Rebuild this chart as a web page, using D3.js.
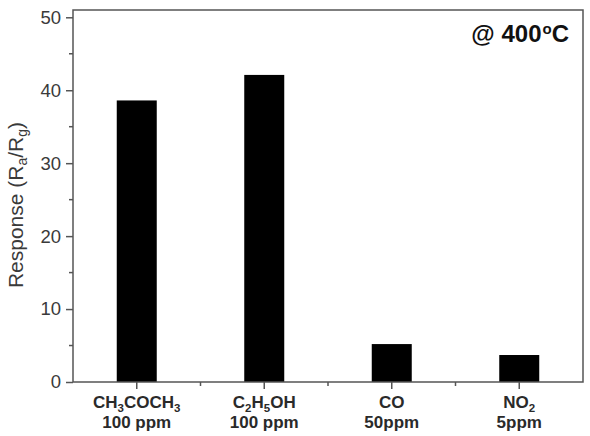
<!DOCTYPE html>
<html>
<head>
<meta charset="utf-8">
<script src="https://cdn.jsdelivr.net/npm/d3@7"></script>
<style>
  body { margin: 0; background: #fff; }
  text { font-family: "Liberation Sans", Arial, sans-serif; }
</style>
</head>
<body>
<script>
// gases and their responses
var gases = ['acetone', 'ethanol', 'co', 'no2'];
var responses = [38.6, 42.1, 5.2, 3.7];
// label parts: [text, isSubscript]
var gasNames = [
  [['CH', 0], ['3', 1], ['COCH', 0], ['3', 1]],
  [['C', 0], ['2', 1], ['H', 0], ['5', 1], ['OH', 0]],
  [['CO', 0]],
  [['NO', 0], ['2', 1]]
];
var concentrations = ['100 ppm', '100 ppm', '50ppm', '5ppm'];
var yTicks = [0, 10, 20, 30, 40, 50];
var yMinorTicks = [5, 15, 25, 35, 45];

var width = 590, height = 436;
var plotLeft = 73, plotRight = 583, plotTop = 10, plotBottom = 382;
var axisColor = '#555';

var svg = d3.select('body').append('svg')
    .attr('width', width)
    .attr('height', height);

var x = d3.scaleBand()
    .domain(gases)
    .range([plotLeft, plotRight])
    .paddingInner(0)
    .paddingOuter(0);

var y = d3.scaleLinear()
    .domain([0, 51])
    .range([plotBottom, plotTop]);

var barWidth = 40;

svg.selectAll('rect.bar')
    .data(responses)
    .enter()
    .append('rect')
    .attr('class', 'bar')
    .attr('x', function(d, i) { return x(gases[i]) + x.bandwidth() / 2 - barWidth / 2; })
    .attr('y', function(d) { return y(d); })
    .attr('width', barWidth)
    .attr('height', function(d) { return y(0) - y(d); })
    .attr('fill', '#000');

// frame
svg.append('rect')
    .attr('x', plotLeft)
    .attr('y', plotTop)
    .attr('width', plotRight - plotLeft)
    .attr('height', plotBottom - plotTop)
    .attr('fill', 'none')
    .attr('stroke', axisColor)
    .attr('stroke-width', 1.5);

// y axis
var yAxis = svg.append('g')
    .attr('transform', 'translate(' + plotLeft + ',0)')
    .call(d3.axisLeft(y).tickValues(yTicks).tickSize(7).tickPadding(5));
yAxis.select('.domain').remove();
yAxis.selectAll('line').attr('stroke', axisColor).attr('stroke-width', 1.5);
yAxis.selectAll('text')
    .attr('font-size', 18.5)
    .attr('fill', '#3a3a3a')
    .style('font-family', '"Liberation Sans", Arial, sans-serif');

svg.append('g').selectAll('line')
    .data(yMinorTicks)
    .enter()
    .append('line')
    .attr('x1', plotLeft - 4)
    .attr('x2', plotLeft)
    .attr('y1', function(d) { return y(d); })
    .attr('y2', function(d) { return y(d); })
    .attr('stroke', axisColor)
    .attr('stroke-width', 1.5);

// x ticks: major at centres, minor at band boundaries
svg.append('g').selectAll('line')
    .data(gases)
    .enter()
    .append('line')
    .attr('x1', function(d) { return x(d) + x.bandwidth() / 2; })
    .attr('x2', function(d) { return x(d) + x.bandwidth() / 2; })
    .attr('y1', plotBottom)
    .attr('y2', plotBottom + 7)
    .attr('stroke', axisColor)
    .attr('stroke-width', 1.5);

svg.append('g').selectAll('line')
    .data(gases.slice(1))
    .enter()
    .append('line')
    .attr('x1', function(d) { return x(d); })
    .attr('x2', function(d) { return x(d); })
    .attr('y1', plotBottom)
    .attr('y2', plotBottom + 4)
    .attr('stroke', axisColor)
    .attr('stroke-width', 1.5);

// category labels
var cat = svg.append('g').selectAll('g')
    .data(gases)
    .enter()
    .append('g')
    .attr('transform', function(d) { return 'translate(' + (x(d) + x.bandwidth() / 2) + ',0)'; });

cat.append('text')
    .attr('y', 408)
    .attr('text-anchor', 'middle')
    .attr('font-size', 17)
    .attr('font-weight', 'bold')
    .attr('fill', '#2a2a2a')
    .each(function(d, i) {
      var t = d3.select(this);
      var prev = 0;
      gasNames[i].forEach(function(p) {
        var s = t.append('tspan').text(p[0]);
        if (p[1]) s.attr('font-size', 11.5);
        s.attr('dy', p[1] && !prev ? 4 : (!p[1] && prev ? -4 : 0));
        prev = p[1];
      });
    });

cat.append('text')
    .attr('y', 428)
    .attr('text-anchor', 'middle')
    .attr('font-size', 17)
    .attr('font-weight', 'bold')
    .attr('fill', '#2a2a2a')
    .text(function(d, i) { return concentrations[i]; });

// y label
svg.append('text')
    .attr('transform', 'translate(23,205) rotate(-90)')
    .attr('text-anchor', 'middle')
    .attr('font-size', 21)
    .attr('fill', '#3a3a3a')
    .call(function(t) {
      t.append('tspan').text('Response (R');
      t.append('tspan').text('a').attr('font-size', 14).attr('dy', 4);
      t.append('tspan').text('/R').attr('dy', -4);
      t.append('tspan').text('g').attr('font-size', 14).attr('dy', 4);
      t.append('tspan').text(')').attr('dy', -4);
    });

// annotation
svg.append('text')
    .attr('x', 569)
    .attr('y', 42)
    .attr('text-anchor', 'end')
    .attr('font-size', 24)
    .attr('font-weight', 'bold')
    .attr('fill', '#111')
    .call(function(t) {
      t.append('tspan').text('@ 400');
      t.append('tspan').text('o').attr('font-size', 15).attr('dy', -8).attr('dx', 1);
      t.append('tspan').text('C').attr('dy', 8);
    });
</script>
</body>
</html>
